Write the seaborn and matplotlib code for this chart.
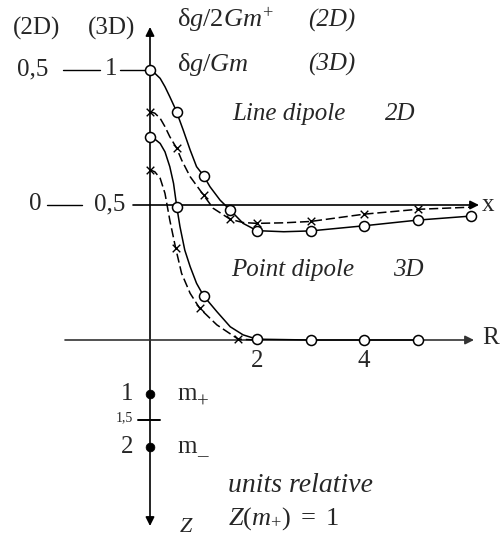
import matplotlib
matplotlib.use("Agg")
import matplotlib.pyplot as plt
import numpy as np
import pandas as pd
import seaborn as sns

# ---- data -----------------------------------------------------------------
# Line dipole (2D): delta g / 2Gm+, solid curve with circles
r2_marks = [0, 0.5, 1, 1.5, 2, 3, 4, 5, 6]
g2_marks = [0.5, 0.343, 0.109, -0.019, -0.095, -0.096, -0.077, -0.056, -0.041]
r2_curve = [0, 0.09, 0.19, 0.28, 0.37, 0.47, 0.5, 0.62, 0.75, 0.87, 1.0,
            1.12, 1.31, 1.5, 1.74, 2.0, 2.5, 3, 4, 5, 6]
g2_curve = [0.5, 0.488, 0.469, 0.438, 0.401, 0.358, 0.343, 0.278, 0.204, 0.142,
            0.109, 0.068, 0.018, -0.019, -0.068, -0.095, -0.099, -0.096,
            -0.077, -0.056, -0.041]

# Line dipole (2D), dashed curve with crosses
r2d_marks = [0, 0.5, 1, 1.5, 2, 3, 4, 5]
g2d_marks = [0.346, 0.21, 0.037, -0.053, -0.068, -0.061, -0.034, -0.016]
r2d_curve = [0, 0.09, 0.19, 0.28, 0.37, 0.5, 0.59, 0.75, 1.0, 1.18, 1.5,
             1.74, 2.0, 2.5, 3, 4, 5, 6]
g2d_curve = [0.346, 0.34, 0.321, 0.29, 0.253, 0.21, 0.167, 0.105, 0.037,
             -0.012, -0.053, -0.065, -0.068, -0.066, -0.061, -0.034, -0.016,
             -0.008]

# Point dipole (3D): delta g / Gm, solid curve with circles
r3_marks = [0, 0.5, 1, 2, 3, 4, 5]
g3_marks = [0.751, 0.494, 0.164, 0.003, 0.0, 0.0, 0.0]
r3_curve = [0, 0.09, 0.19, 0.28, 0.37, 0.44, 0.5, 0.56, 0.65, 0.75, 0.87,
            1.0, 1.25, 1.5, 1.74, 2.0, 3, 4, 5]
g3_curve = [0.751, 0.744, 0.728, 0.697, 0.642, 0.58, 0.494, 0.42, 0.333, 0.272,
            0.21, 0.164, 0.105, 0.049, 0.019, 0.003, 0.0, 0.0, 0.0]

# Point dipole (3D), dashed curve with crosses
r3d_marks = [0, 0.48, 0.93, 1.65]
g3d_marks = [0.63, 0.34, 0.117, 0.003]
r3d_curve = [0, 0.09, 0.19, 0.28, 0.37, 0.48, 0.59, 0.75, 0.93, 1.25, 1.65, 2.0]
g3d_curve = [0.63, 0.623, 0.599, 0.543, 0.444, 0.34, 0.247, 0.173, 0.117,
             0.056, 0.003, 0.0]

# Source depths on the Z axis (units relative to Z(m+) = 1)
z_masses = [1, 2]
z_mass_labels = ["1", "2"]
z_mass_signs = ["+", "\u2013"]
z_mid = 1.5
r_tick_values = [2, 4]

# ---- layout ---------------------------------------------------------------
W, H = 503, 540
PX_R = 53.5        # pixels per unit of R (and of Z)
PX_G = 270.0       # pixels per unit of delta g (3D)
X0, Y0 = 150, 340  # pixel position of the origin
OFF2D = 0.5        # the 2D zero line sits at 3D value 0.5
Z_TO_G = PX_R / PX_G

sns.set_style("white")
plt.rcParams["font.family"] = ["Liberation Serif", "DejaVu Serif"]
plt.rcParams["mathtext.fontset"] = "custom"
plt.rcParams["mathtext.rm"] = "Liberation Serif"
plt.rcParams["mathtext.it"] = "Liberation Serif:italic"

fig = plt.figure(figsize=(W / 100, H / 100), dpi=100)
ax = fig.add_axes([0, 0, 1, 1])
ax.set_xlim(-X0 / PX_R, (W - X0) / PX_R)
ax.set_ylim((Y0 - H) / PX_G, Y0 / PX_G)
ax.axis("off")


def px(x, y):
    """Pixel position -> data coordinates."""
    return (x - X0) / PX_R, (Y0 - y) / PX_G


K = "black"
arrow = dict(arrowstyle="-|>", color=K, lw=1.2, mutation_scale=13,
             shrinkA=0, shrinkB=0)

# vertical axis (value up, Z down)
ax.annotate("", xy=(0, px(0, 27)[1]), xytext=(0, 0), arrowprops=arrow, zorder=1)
ax.annotate("", xy=(0, px(0, 526)[1]), xytext=(0, 0), arrowprops=arrow, zorder=1)
# R axis
ax.annotate("", xy=(px(474, 0)[0], 0), xytext=(px(65, 0)[0], 0),
            arrowprops=dict(arrow, color="#333333"), zorder=1)
# x axis of the 2D case
ax.annotate("", xy=(px(479, 0)[0], OFF2D), xytext=(px(133, 0)[0], OFF2D),
            arrowprops=arrow, zorder=1)

# left scale links
ax.plot([px(63, 0)[0], px(100, 0)[0]], [1.0, 1.0], color=K, lw=1.0)
ax.plot([px(120, 0)[0], 0], [1.0, 1.0], color=K, lw=1.0)
ax.plot([px(47, 0)[0], px(82, 0)[0]], [OFF2D, OFF2D], color=K, lw=1.0)

FS = 18
fig.text(37 / W, 1 - 28 / H, "(2D)", ha="center", va="center", fontsize=FS)
fig.text(112 / W, 1 - 28 / H, "(3D)", ha="center", va="center", fontsize=FS)
ax.text(*px(33, 69), "0,5", ha="center", va="center", fontsize=FS)
ax.text(*px(111, 69), "1", ha="center", va="center", fontsize=FS)
ax.text(*px(35, 204), "0", ha="center", va="center", fontsize=FS)
ax.text(*px(110, 204), "0,5", ha="center", va="center", fontsize=FS)

# ---- curves ---------------------------------------------------------------
dash = (0, (6, 2.5))
curves = pd.DataFrame({
    "r": r2_curve, "g": np.asarray(g2_curve) + OFF2D})
sns.lineplot(data=curves, x="r", y="g", color=K, lw=1.1, ax=ax,
             estimator=None, sort=True, zorder=2)
sns.lineplot(x=r2d_curve, y=np.asarray(g2d_curve) + OFF2D, color=K, lw=1.1,
             ax=ax, estimator=None, linestyle=dash, zorder=2)
sns.lineplot(x=r3_curve, y=g3_curve, color=K, lw=1.1, ax=ax,
             estimator=None, zorder=2)
sns.lineplot(x=r3d_curve, y=g3d_curve, color=K, lw=1.1, ax=ax,
             estimator=None, linestyle=dash, zorder=2)

circ = dict(marker="o", s=52, facecolor="white", edgecolor=K, linewidth=1.1,
            zorder=4, ax=ax)
cross = dict(marker="x", s=30, color=K, linewidth=1.0, zorder=4, ax=ax)
sns.scatterplot(x=r2_marks, y=np.asarray(g2_marks) + OFF2D, **circ)
sns.scatterplot(x=r3_marks, y=g3_marks, **circ)
sns.scatterplot(x=r2d_marks, y=np.asarray(g2d_marks) + OFF2D, **cross)
sns.scatterplot(x=r3d_marks, y=g3d_marks, **cross)

# R tick labels
for rv in r_tick_values:
    ax.text(rv, px(0, 361)[1], str(rv), ha="center", va="center", fontsize=FS)
ax.text(*px(491, 338), "R", ha="center", va="center", fontsize=FS)
ax.text(*px(488, 205), "x", ha="center", va="center", fontsize=FS)

# Z axis: source masses
zy = [-z * Z_TO_G for z in z_masses]
sns.scatterplot(x=[0] * len(z_masses), y=zy, marker="o", s=40, color=K,
                edgecolor=K, zorder=5, ax=ax)
for y, lab, sign in zip(zy, z_mass_labels, z_mass_signs):
    ax.text(px(133, 0)[0], y, lab, ha="right", va="center", fontsize=FS)
    ax.text(px(177, 0)[0], y, "m", ha="left", va="center", fontsize=FS)
    ax.text(px(197, 0)[0], y - 10 / PX_G, sign, ha="left", va="center",
            fontsize=15)
ax.plot([px(138, 0)[0], px(160, 0)[0]], [-z_mid * Z_TO_G] * 2, color=K, lw=1.4)
ax.text(px(133, 0)[0], -z_mid * Z_TO_G + 0.01, "1,5", ha="right", va="center",
        fontsize=10)

# annotations
fig.text(177 / W, 1 - 20 / H, r"$\mathrm{\delta}g/2Gm^{+}$", ha="left",
         va="center", fontsize=19)
fig.text(177 / W, 1 - 64 / H, r"$\mathrm{\delta}g/Gm$", ha="left",
         va="center", fontsize=19)
fig.text(332 / W, 1 - 20 / H, "(2D)", ha="center", va="center", fontsize=FS,
         style="italic")
fig.text(332 / W, 1 - 64 / H, "(3D)", ha="center", va="center", fontsize=FS,
         style="italic")
fig.text(232 / W, 1 - 114 / H, "Line dipole", ha="left", va="center",
         fontsize=FS, style="italic")
fig.text(385 / W, 1 - 114 / H, "2D", ha="left", va="center", fontsize=FS,
         style="italic")
fig.text(231 / W, 1 - 270 / H, "Point dipole", ha="left", va="center",
         fontsize=FS, style="italic")
fig.text(393 / W, 1 - 270 / H, "3D", ha="left", va="center", fontsize=FS,
         style="italic")
fig.text(228 / W, 1 - 485 / H, "units relative", ha="left", va="center",
         fontsize=20, style="italic")
fig.text(228 / W, 1 - 519 / H, r"$Z(m_{+})\ =\ \mathit{1}$", ha="left",
         va="center", fontsize=19)
fig.text(186 / W, 1 - 527 / H, "Z", ha="center", va="center", fontsize=16,
         style="italic")

fig.savefig("out.png", dpi=100)
